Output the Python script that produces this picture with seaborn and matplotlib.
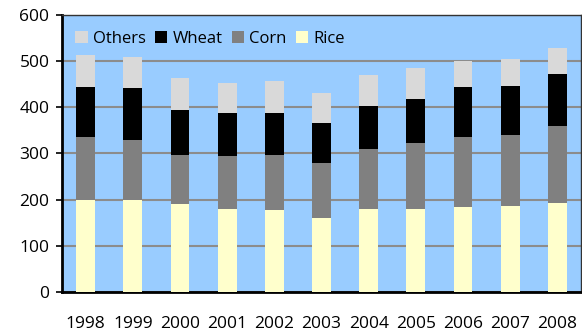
import numpy as np
import pandas as pd
import matplotlib
matplotlib.use("Agg")
import matplotlib.pyplot as plt
from matplotlib.patches import Patch
import seaborn as sns

years = ["1998", "1999", "2000", "2001", "2002", "2003", "2004", "2005", "2006", "2007", "2008"]
rice = [200, 200, 190, 180, 177, 161, 180, 180, 184, 187, 193]
corn = [135, 129, 107, 114, 120, 118, 130, 142, 151, 154, 167]
wheat = [109, 112, 97, 93, 90, 87, 93, 97, 109, 106, 113]
others = [70, 69, 69, 66, 71, 65, 67, 66, 57, 57, 56]

series = [("Rice", rice, "#FFFFCC"),
          ("Corn", corn, "#808080"),
          ("Wheat", wheat, "#000000"),
          ("Others", others, "#D9D9D9")]

sns.set_theme(style="white")
plt.rcParams["font.family"] = ["Open Sans", "DejaVu Sans"]
plt.rcParams["text.color"] = "black"
plt.rcParams["xtick.color"] = "black"
plt.rcParams["ytick.color"] = "black"

fig = plt.figure(figsize=(5.82, 3.32), dpi=100)
ax = fig.add_axes([62 / 582, 1 - 292 / 332, 519 / 582, 277 / 332])
ax.set_facecolor("#99CCFF")

# stacked bars: draw cumulative totals from the top layer down
cum = np.cumsum([s[1] for s in series], axis=0)
for (name, vals, color), top in reversed(list(zip(series, cum))):
    df = pd.DataFrame({"year": years, "value": top})
    sns.barplot(data=df, x="year", y="value", color=color, width=0.4,
                saturation=1, ax=ax, zorder=3, linewidth=0)

ax.set_xlim(-0.5, len(years) - 0.5)
ax.set_ylim(0, 600)
ax.set_yticks(range(0, 601, 100))
ax.yaxis.grid(True, color="#8C8C8C", linewidth=1.5, zorder=1)
ax.set_axisbelow(True)
ax.set_xlabel("")
ax.set_ylabel("")

# x tick marks sit on category boundaries, labels centered
ax.set_xticks(np.arange(-0.5, len(years), 1.0), minor=True)
ax.tick_params(axis="x", which="minor", length=5, width=1.2, color="black", direction="out")
ax.tick_params(axis="x", which="major", length=0, pad=17, labelsize=12.5)
ax.tick_params(axis="y", which="major", length=4, width=1.2, color="black",
               direction="out", pad=5, labelsize=12.5, left=True)

for side in ["left", "bottom"]:
    ax.spines[side].set_color("black")
    ax.spines[side].set_linewidth(2)
for side in ["top", "right"]:
    ax.spines[side].set_color("#333333")
    ax.spines[side].set_linewidth(1)

handles = [Patch(facecolor=c, edgecolor="none", label=n) for n, _, c in reversed(series)]
ax.legend(handles=handles, loc="upper left", ncol=4, frameon=False,
          bbox_to_anchor=(0.0, 0.99), fontsize=12, handlelength=0.75,
          handleheight=0.75, handletextpad=0.3, columnspacing=0.55,
          borderaxespad=0.4)

fig.savefig("out.png", dpi=100)
